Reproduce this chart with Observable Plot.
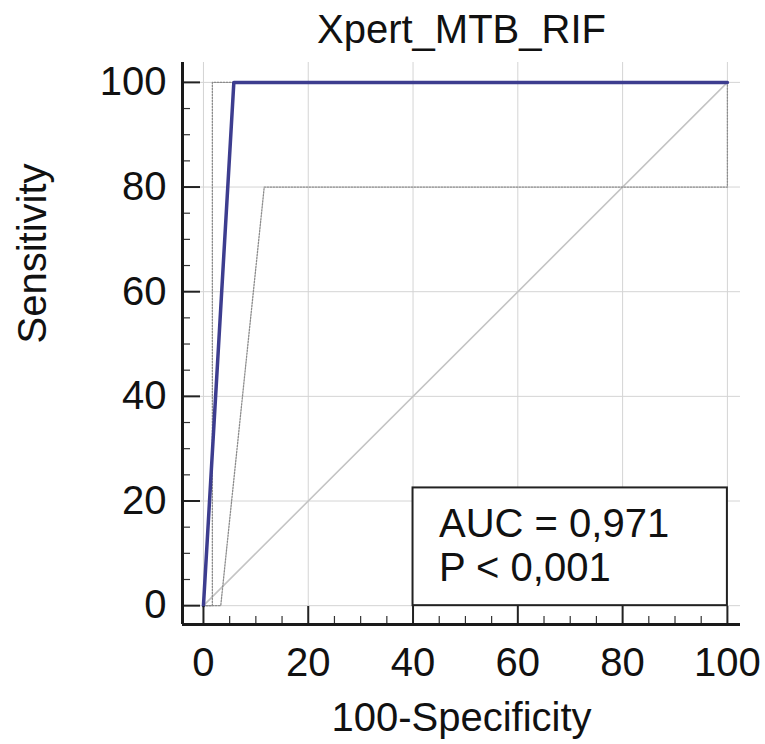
<!DOCTYPE html>
<html>
<head>
<meta charset="utf-8">
<script src="https://cdn.jsdelivr.net/npm/d3@7"></script>
<script src="https://cdn.jsdelivr.net/npm/@observablehq/plot@0.6"></script>
<style>
  html, body { margin: 0; padding: 0; background: #fff; }
  #chart svg { display: block; }
</style>
</head>
<body>
<div id="chart"></div>
<script>
// ---- data ----
const titleText = "Xpert_MTB_RIF";
const xLabel = "100-Specificity";
const yLabel = "Sensitivity";
const aucLines = ["AUC = 0,971", "P < 0,001"];

// ROC curve (100-Specificity, Sensitivity)
const rocX = [0, 5.8, 100];
const rocY = [0, 100, 100];
// 95% confidence bounds
const upperX = [0, 1.7, 1.7, 100];
const upperY = [0, 0, 100, 100];
const lowerX = [0, 3.3, 11.6, 100, 100];
const lowerY = [0, 0, 80, 80, 100];
// reference diagonal
const diagX = [0, 100];
const diagY = [0, 100];

const majorTicks = [0, 20, 40, 60, 80, 100];
const minorTicks = [5, 10, 15, 25, 30, 35, 45, 50, 55, 65, 70, 75, 85, 90, 95];

// ---- build ----
const toPts = (xs, ys) => xs.map((x, i) => ({x, y: ys[i]}));
const roc = toPts(rocX, rocY);
const upper = toPts(upperX, upperY);
const lower = toPts(lowerX, lowerY);
const diag = toPts(diagX, diagY);

const xDomain = [-4, 102.5];
const yDomain = [-3.6, 103.8];
const font = "'Liberation Sans', Arial, Helvetica, sans-serif";
const fs = 40;

// annotation box in data space
const box = [{x1: 40, x2: 100, y1: 0, y2: 22.5}];
const boxText = [{x: 40, y: 15.6, t: aucLines[0]}, {x: 40, y: 7.2, t: aucLines[1]}];

const chart = Plot.plot({
  width: 765,
  height: 744,
  marginLeft: 182,
  marginRight: 25,
  marginTop: 62,
  marginBottom: 120,
  style: {fontFamily: font, fontSize: fs + "px", background: "#fff", color: "#222"},
  x: {domain: xDomain, label: null},
  y: {domain: yDomain, label: null},
  marks: [
    Plot.gridX(majorTicks, {stroke: "#d4d4d4", strokeOpacity: 1, strokeWidth: 1}),
    Plot.gridY(majorTicks, {stroke: "#d4d4d4", strokeOpacity: 1, strokeWidth: 1}),
    Plot.line(diag, {x: "x", y: "y", stroke: "#c4c4c4", strokeWidth: 1.6}),
    Plot.line(upper, {x: "x", y: "y", stroke: "#8c8c8c", strokeWidth: 1.3, strokeDasharray: "1.5,1.5"}),
    Plot.line(lower, {x: "x", y: "y", stroke: "#8c8c8c", strokeWidth: 1.3, strokeDasharray: "1.5,1.5"}),
    Plot.line(roc, {x: "x", y: "y", stroke: "#3d3d8f", strokeWidth: 3.5}),
    Plot.rect(box, {x1: "x1", x2: "x2", y1: "y1", y2: "y2", fill: "#fff", stroke: "#222", strokeWidth: 2}),
    Plot.text(boxText, {x: "x", y: "y", text: "t", dx: 26, textAnchor: "start", lineAnchor: "middle", fontSize: fs, fill: "#111"}),
    // axes: inward ticks
    Plot.axisX({ticks: minorTicks, tickSize: -8, text: null, stroke: "#333", strokeWidth: 1.2}),
    Plot.axisX({ticks: majorTicks, tickSize: -18, tickPadding: 40.6, fontSize: fs, stroke: "#222", fill: "#111", strokeWidth: 2, label: null, tickFormat: d => String(d)}),
    Plot.axisY({ticks: minorTicks, tickSize: -8, text: null, stroke: "#333", strokeWidth: 1.2}),
    Plot.axisY({ticks: majorTicks, tickSize: -18, tickPadding: 34, fontSize: fs, stroke: "#222", fill: "#111", strokeWidth: 2, label: null, tickFormat: d => String(d)}),
    Plot.ruleX([xDomain[0]], {stroke: "#1a1a1a", strokeWidth: 3}),
    Plot.ruleY([yDomain[0]], {stroke: "#1a1a1a", strokeWidth: 3}),
    // titles
    Plot.text([titleText], {text: d => d, frameAnchor: "top", dy: -32, lineAnchor: "middle", fontSize: fs, fill: "#111"}),
    Plot.text([xLabel], {text: d => d, frameAnchor: "bottom", dy: 94, lineAnchor: "middle", fontSize: fs, fill: "#111"}),
    Plot.text([yLabel], {text: d => d, frameAnchor: "left", dx: -149, rotate: -90, lineAnchor: "middle", fontSize: fs, fill: "#111"})
  ]
});
document.getElementById("chart").appendChild(chart);
</script>
</body>
</html>
